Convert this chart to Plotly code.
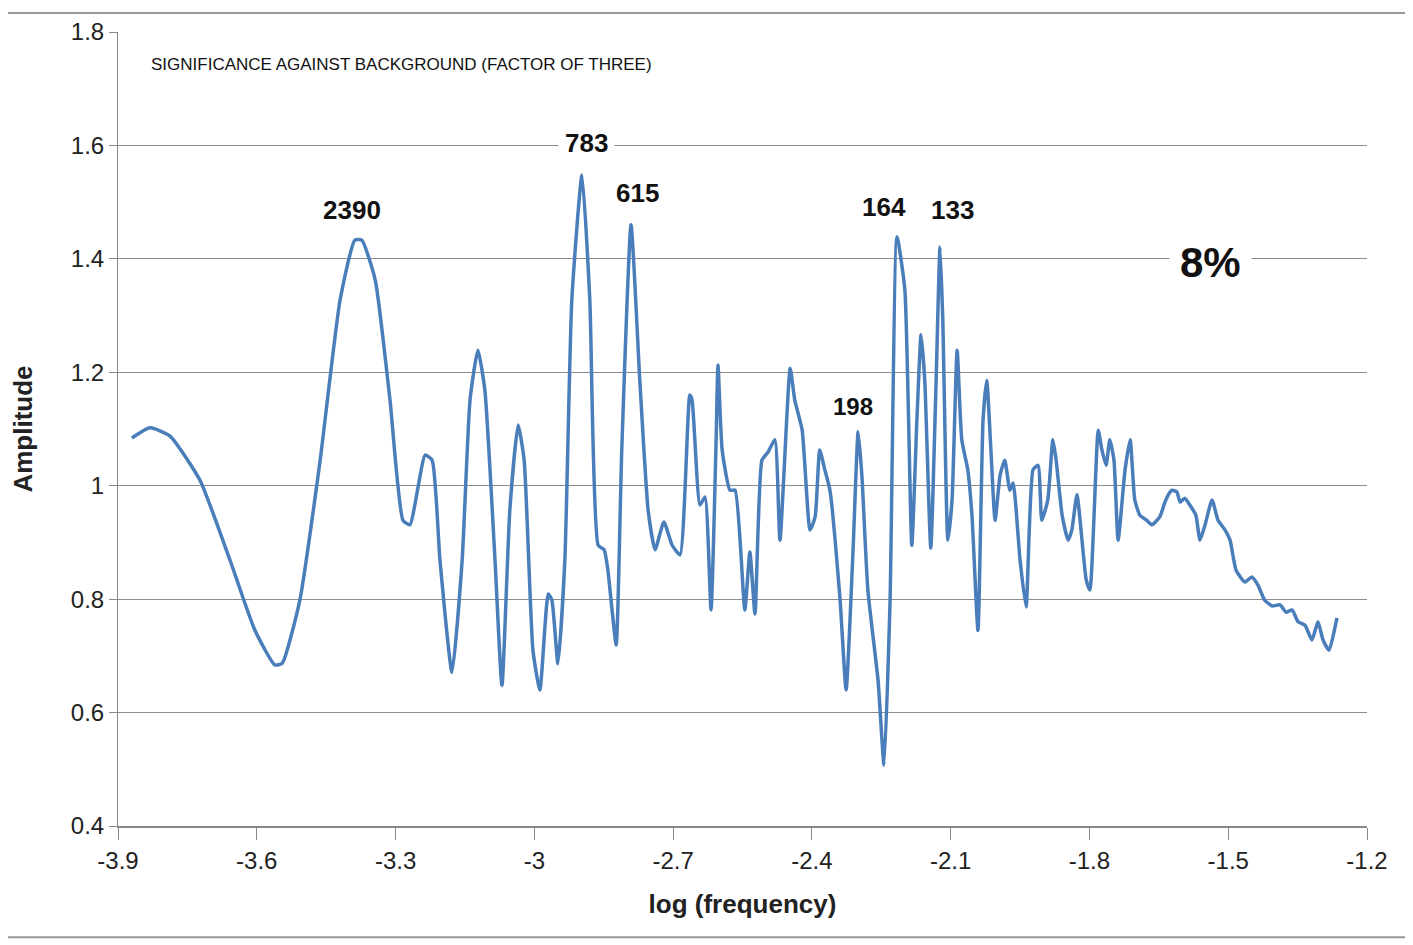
import plotly.graph_objects as go

log_freq = [-3.870,-3.831,-3.788,-3.723,-3.658,-3.604,-3.561,-3.545,-3.507,-3.463,-3.420,-3.388,-3.373,-3.344,-3.312,-3.284,-3.269,-3.236,-3.221,-3.204,-3.178,-3.156,-3.139,-3.122,-3.107,-3.085,-3.070,-3.053,-3.035,-3.022,-3.003,-2.988,-2.970,-2.962,-2.949,-2.934,-2.919,-2.897,-2.880,-2.862,-2.849,-2.841,-2.832,-2.823,-2.811,-2.791,-2.772,-2.754,-2.739,-2.720,-2.702,-2.685,-2.664,-2.659,-2.642,-2.631,-2.618,-2.607,-2.603,-2.594,-2.577,-2.566,-2.545,-2.534,-2.523,-2.508,-2.495,-2.480,-2.469,-2.447,-2.437,-2.421,-2.404,-2.393,-2.383,-2.372,-2.361,-2.339,-2.326,-2.311,-2.300,-2.292,-2.279,-2.257,-2.244,-2.231,-2.216,-2.199,-2.184,-2.173,-2.164,-2.156,-2.143,-2.132,-2.123,-2.117,-2.106,-2.097,-2.086,-2.076,-2.063,-2.054,-2.041,-2.030,-2.022,-2.013,-2.004,-1.993,-1.983,-1.972,-1.965,-1.950,-1.937,-1.922,-1.911,-1.903,-1.890,-1.879,-1.872,-1.859,-1.846,-1.838,-1.827,-1.807,-1.799,-1.781,-1.773,-1.764,-1.756,-1.747,-1.738,-1.723,-1.712,-1.702,-1.691,-1.676,-1.665,-1.648,-1.635,-1.622,-1.611,-1.604,-1.594,-1.583,-1.570,-1.561,-1.550,-1.535,-1.522,-1.507,-1.496,-1.483,-1.464,-1.449,-1.436,-1.421,-1.405,-1.388,-1.375,-1.362,-1.349,-1.334,-1.319,-1.306,-1.295,-1.282,-1.265]
amplitude = [1.084,1.102,1.088,1.010,0.869,0.745,0.684,0.687,0.798,1.045,1.327,1.433,1.433,1.363,1.151,0.939,0.931,1.054,1.045,0.869,0.671,0.869,1.151,1.239,1.169,0.869,0.648,0.957,1.107,1.045,0.710,0.640,0.809,0.798,0.686,0.869,1.327,1.548,1.327,0.895,0.887,0.851,0.781,0.719,1.063,1.460,1.186,0.957,0.887,0.936,0.895,0.878,1.160,1.151,0.966,0.980,0.781,1.081,1.213,1.063,0.992,0.992,0.781,0.883,0.774,1.045,1.059,1.081,0.904,1.207,1.151,1.098,0.922,0.945,1.063,1.028,0.992,0.798,0.640,0.887,1.095,1.019,0.816,0.657,0.507,0.798,1.439,1.345,0.895,1.116,1.266,1.186,0.890,1.169,1.421,1.292,0.904,0.975,1.239,1.081,1.028,0.948,0.745,1.116,1.186,1.063,0.939,1.019,1.045,0.992,1.005,0.869,0.786,1.028,1.036,0.939,0.975,1.081,1.045,0.948,0.904,0.922,0.984,0.834,0.816,1.098,1.063,1.036,1.081,1.045,0.904,1.028,1.081,0.975,0.948,0.939,0.931,0.945,0.975,0.992,0.989,0.971,0.978,0.966,0.948,0.904,0.931,0.975,0.939,0.922,0.904,0.851,0.830,0.839,0.825,0.798,0.788,0.790,0.777,0.781,0.760,0.754,0.728,0.760,0.728,0.710,0.767]

peak_labels = ["2390", "783", "615", "164", "133", "198"]
peak_x = [-3.394, -2.887, -2.776, -2.244, -2.097, -2.311]
peak_y = [1.486, 1.604, 1.516, 1.491, 1.486, 1.139]
peak_size = [26, 26, 26, 26, 26, 24]

fig = go.Figure()
fig.add_trace(go.Scatter(x=log_freq, y=amplitude, mode="lines",
                         line=dict(color="#4a7ebb", width=3.5, shape="spline", smoothing=0.5),
                         showlegend=False, hoverinfo="skip"))

for t, x, y, s in zip(peak_labels, peak_x, peak_y, peak_size):
    fig.add_annotation(x=x, y=y, text="<b>%s</b>" % t, showarrow=False,
                       font=dict(family="Liberation Sans, Arial", size=s, color="#111"),
                       bgcolor="white", borderpad=6)
fig.add_annotation(x=-1.539, y=1.394, text="<b>8%</b>", showarrow=False,
                   font=dict(family="Liberation Sans, Arial", size=42, color="#111"),
                   bgcolor="white", borderpad=10)
fig.add_annotation(x=0.025, y=0.974, xref="paper", yref="paper", xanchor="left",
                   text="SIGNIFICANCE AGAINST BACKGROUND (FACTOR OF THREE)", showarrow=False,
                   font=dict(family="Liberation Sans Narrow, Liberation Sans, Arial", size=17, color="#111"))

fig.add_shape(type="rect", xref="paper", yref="paper", x0=-0.09, x1=1.034, y0=-0.14, y1=1.024,
              line=dict(color="#999", width=2))

fig.update_layout(
    width=1413, height=945, plot_bgcolor="white", paper_bgcolor="white",
    margin=dict(l=110, r=54, t=24, b=127),
    font=dict(family="Liberation Sans, Arial", color="#222"),
    xaxis=dict(range=[-3.9, -1.2], tickvals=[-3.9,-3.6,-3.3,-3.0,-2.7,-2.4,-2.1,-1.8,-1.5,-1.2],
               ticktext=["-3.9","-3.6","-3.3","-3","-2.7","-2.4","-2.1","-1.8","-1.5","-1.2"],
               showgrid=False, showline=True, linecolor="#888", linewidth=1.5, automargin=False,
               ticks="outside", ticklen=12, tickcolor="#888", tickfont=dict(size=24),
               title=dict(text="<b>log (frequency)</b>", font=dict(size=26), standoff=22), zeroline=False),
    yaxis=dict(range=[0.4, 1.8], tickvals=[0.4,0.6,0.8,1.0,1.2,1.4,1.6,1.8],
               ticktext=["0.4","0.6","0.8","1","1.2","1.4","1.6","1.8"], automargin=False,
               showgrid=True, gridcolor="#8c8c8c", gridwidth=1.2, showline=True, linecolor="#888",
               ticks="outside", ticklen=8, tickcolor="#888", tickfont=dict(size=24),
               title=dict(text="<b>Amplitude</b>", font=dict(size=26), standoff=30), zeroline=False),
)
fig.write_html("out.html")
